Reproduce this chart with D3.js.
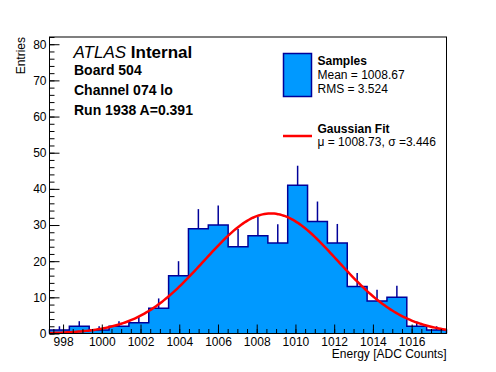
<!DOCTYPE html>
<html>
<head>
<meta charset="utf-8">
<script src="https://cdn.jsdelivr.net/npm/d3@7"></script>
<style>
body { margin: 0; background: #fff; }
svg { font-family: "Liberation Sans", Arial, Helvetica, sans-serif; }
</style>
</head>
<body>
<svg id="chart" width="496" height="372"></svg>
<script>
// histogram range (20 bins)
var binLow = 997.3;
var binHigh = 1017.8;
// entries per bin
var counts = [1, 2, 1, 2, 3, 7, 16, 29, 30, 24, 27, 25, 41, 31, 25, 13, 9, 10, 2, 1];
// error bar (upper half, the rest is hidden by the fill)
var errors = [1, 1.4, 1, 1.4, 1.7, 2.7, 4, 5.4, 5.4, 4.9, 5.3, 5.2, 5.4, 5.5, 5.3, 3.7, 3.1, 3.2, 1.3, 1];
var xTicks = [998, 1000, 1002, 1004, 1006, 1008, 1010, 1012, 1014, 1016];
var yTicks = [0, 10, 20, 30, 40, 50, 60, 70, 80];
var yMax = 82;
// gaussian fit result
var fitMu = 1008.73;
var fitSigma = 3.446;
var fitAmp = 33.2;
var infoLines = ["Board 504", "Channel 074 lo", "Run 1938 A=0.391"];
var sampleLines = ["Mean = 1008.67", "RMS = 3.524"];
var fitLine = "\u03bc = 1008.73, \u03c3 =3.446";

var fillCol = "#0099ff";
var lineCol = "#000099";

var svg = d3.select("#chart");
svg.append("rect").attr("width", 496).attr("height", 372).style("fill", "white");

var x = d3.scaleLinear().domain([binLow, binHigh]).range([49.5, 446.5]);
var y = d3.scaleLinear().domain([0, yMax]).range([333.5, 37]);

var bw = (binHigh - binLow) / counts.length;
var bins = counts.map(function(c, i) {
	return {lo: binLow + i * bw, hi: binLow + (i + 1) * bw, n: c, err: errors[i]};
});

// step outline of the histogram
function histPath() {
	var p = d3.path();
	p.moveTo(x(bins[0].lo), y(0));
	bins.forEach(function(b) {
		p.lineTo(x(b.lo), y(b.n));
		p.lineTo(x(b.hi), y(b.n));
	});
	p.lineTo(x(bins[bins.length - 1].hi), y(0));
	return p.toString();
}

svg.append("path")
	.attr("d", histPath() + "Z")
	.style("fill", fillCol)
	.style("stroke", "none");

svg.selectAll("line.err")
	.data(bins).enter()
	.append("line")
	.attr("class", "err")
	.attr("x1", function(d) {return x((d.lo + d.hi) / 2);})
	.attr("x2", function(d) {return x((d.lo + d.hi) / 2);})
	.attr("y1", function(d) {return y(d.n);})
	.attr("y2", function(d) {return y(d.n + d.err);})
	.style("stroke", lineCol)
	.style("stroke-width", 1.5);

svg.append("path")
	.attr("d", histPath())
	.style("fill", "none")
	.style("stroke", lineCol)
	.style("stroke-width", 1.5);

// fit curve, sampled along the axis like TF1 does
var fitPts = x.ticks(200).map(function(v) {
	var t = (v - fitMu) / fitSigma;
	return [v, fitAmp * Math.exp(-0.5 * t * t)];
});
fitPts.unshift([binLow, fitAmp * Math.exp(-0.5 * Math.pow((binLow - fitMu) / fitSigma, 2))]);
fitPts.push([binHigh, fitAmp * Math.exp(-0.5 * Math.pow((binHigh - fitMu) / fitSigma, 2))]);

svg.append("path")
	.datum(fitPts)
	.attr("d", d3.line()
		.x(function(d) {return x(d[0]);})
		.y(function(d) {return y(d[1]);}))
	.style("fill", "none")
	.style("stroke", "red")
	.style("stroke-width", 2.5);

// frame
svg.append("rect")
	.attr("x", x.range()[0]).attr("y", y.range()[1])
	.attr("width", x.range()[1] - x.range()[0])
	.attr("height", y.range()[0] - y.range()[1])
	.style("fill", "none")
	.style("stroke", "black")
	.style("stroke-width", 1);

// axes, ticks pointing into the frame
var xMinor = svg.append("g").attr("transform", "translate(0," + y(0) + ")")
	.call(d3.axisBottom(x).tickValues(x.ticks(40)).tickSizeInner(-4.5).tickSizeOuter(0).tickFormat(""));
var xMajor = svg.append("g").attr("transform", "translate(0," + y(0) + ")")
	.call(d3.axisBottom(x).tickValues(xTicks).tickSizeInner(-9).tickSizeOuter(0).tickPadding(3.5).tickFormat(d3.format("d")));
var yMinor = svg.append("g").attr("transform", "translate(" + x(binLow) + ",0)")
	.call(d3.axisLeft(y).tickValues(y.ticks(41)).tickSizeInner(-5).tickSizeOuter(0).tickFormat(""));
var yMajor = svg.append("g").attr("transform", "translate(" + x(binLow) + ",0)")
	.call(d3.axisLeft(y).tickValues(yTicks).tickSizeInner(-10).tickSizeOuter(0).tickPadding(3));

[xMinor, xMajor, yMinor, yMajor].forEach(function(g) {
	g.select(".domain").remove();
	g.selectAll("line").style("stroke", "black").style("stroke-width", 1);
	g.selectAll("text").style("font-family", "Liberation Sans, Arial, sans-serif").style("font-size", "12px").style("fill", "black");
});

svg.append("text")
	.attr("x", 446.5).attr("y", 358)
	.attr("text-anchor", "end")
	.style("font-size", "12px")
	.text("Energy [ADC Counts]");

svg.append("text")
	.attr("transform", "translate(25,37) rotate(-90)")
	.attr("text-anchor", "end")
	.style("font-size", "12px")
	.text("Entries");

// ATLAS label
var atlas = svg.append("text").attr("x", 73.5).attr("y", 58).style("font-size", "17px");
atlas.append("tspan").style("font-style", "italic").text("ATLAS");
atlas.append("tspan").style("font-weight", "bold").text(" Internal");

svg.selectAll("text.info")
	.data(infoLines).enter()
	.append("text")
	.attr("class", "info")
	.attr("x", 74)
	.attr("y", function(d, i) {return 74.5 + i * 20;})
	.style("font-size", "14px")
	.style("font-weight", "bold")
	.text(function(d) {return d;});

// legend
svg.append("rect")
	.attr("x", 283.5).attr("y", 53.5).attr("width", 28).attr("height", 43)
	.style("fill", fillCol).style("stroke", lineCol).style("stroke-width", 1.5);
svg.append("text").attr("x", 317.5).attr("y", 65)
	.style("font-size", "12px").style("font-weight", "bold").text("Samples");
svg.selectAll("text.samp")
	.data(sampleLines).enter()
	.append("text")
	.attr("class", "samp")
	.attr("x", 317.5)
	.attr("y", function(d, i) {return 79 + i * 14;})
	.style("font-size", "12px")
	.text(function(d) {return d;});

svg.append("line")
	.attr("x1", 283).attr("x2", 312).attr("y1", 136).attr("y2", 136)
	.style("stroke", "red").style("stroke-width", 2.5);
svg.append("text").attr("x", 317.5).attr("y", 132.5)
	.style("font-size", "12px").style("font-weight", "bold").text("Gaussian Fit");
svg.append("text").attr("x", 317.5).attr("y", 146)
	.style("font-size", "12px").text(fitLine);
</script>
</body>
</html>
